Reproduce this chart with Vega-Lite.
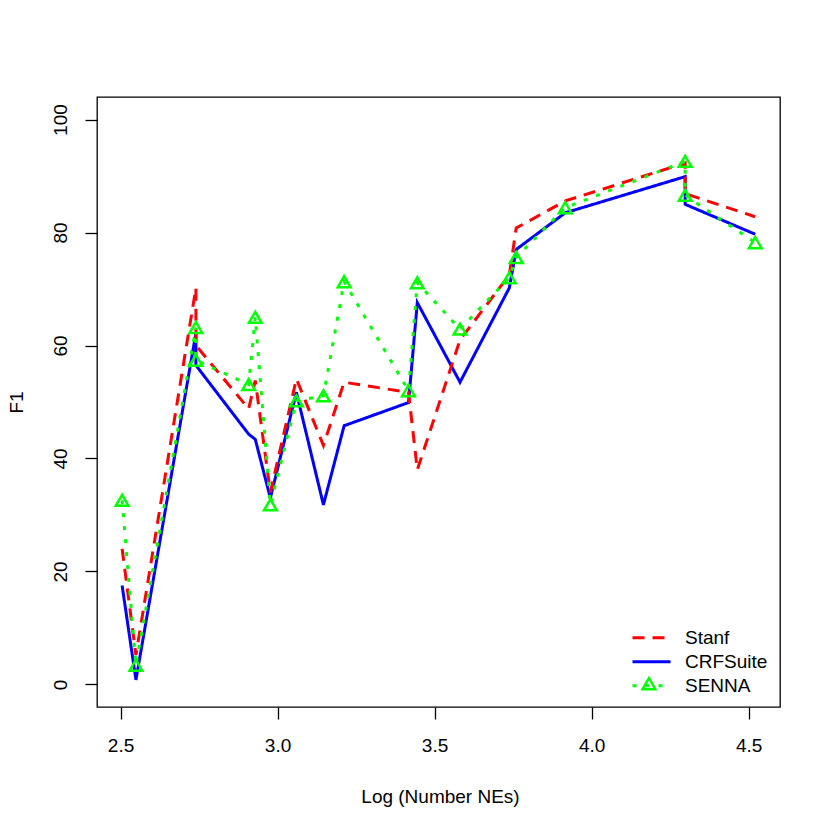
{
  "$schema": "https://vega.github.io/schema/vega-lite/v6.json",
  "autosize": {"type": "none"},
  "padding": {"left": 97, "top": 97, "right": 50, "bottom": 123},
  "width": 683,
  "height": 610,
  "background": "white",
  "config": {
    "font": "Liberation Sans",
    "view": {"stroke": "black", "strokeWidth": 1.3},
    "axis": {
      "grid": false,
      "domain": false,
      "tickColor": "black",
      "tickSize": 12,
      "tickWidth": 1.3,
      "labelColor": "black",
      "labelFontSize": 19,
      "labelFont": "Liberation Sans",
      "titleFont": "Liberation Sans",
      "titleFontSize": 19,
      "titleFontWeight": "normal",
      "titleColor": "black"
    }
  },
  "data": {
    "values": [
      {"o": 1, "x": 2.505, "Stanf": 24.0, "CRFSuite": 17.5, "SENNA": 32.6},
      {"o": 2, "x": 2.549, "Stanf": 5.2, "CRFSuite": 0.8, "SENNA": 3.4},
      {"o": 3, "x": 2.740, "Stanf": 70.2, "CRFSuite": 62.2, "SENNA": 63.2},
      {"o": 4, "x": 2.740, "Stanf": 60.0, "CRFSuite": 56.5, "SENNA": 57.4},
      {"o": 5, "x": 2.908, "Stanf": 48.8, "CRFSuite": 44.3, "SENNA": 53.1},
      {"o": 6, "x": 2.929, "Stanf": 53.8, "CRFSuite": 43.4, "SENNA": 65.0},
      {"o": 7, "x": 2.977, "Stanf": 34.0, "CRFSuite": 33.0, "SENNA": 31.8},
      {"o": 8, "x": 3.060, "Stanf": 54.1, "CRFSuite": 51.7, "SENNA": 50.2},
      {"o": 9, "x": 3.146, "Stanf": 42.3, "CRFSuite": 31.8, "SENNA": 51.1},
      {"o": 10, "x": 3.212, "Stanf": 53.5, "CRFSuite": 45.8, "SENNA": 71.3},
      {"o": 11, "x": 3.417, "Stanf": 51.7, "CRFSuite": 49.9, "SENNA": 52.0},
      {"o": 12, "x": 3.445, "Stanf": 38.0, "CRFSuite": 67.6, "SENNA": 71.1},
      {"o": 13, "x": 3.581, "Stanf": 61.0, "CRFSuite": 53.5, "SENNA": 62.9},
      {"o": 14, "x": 3.738, "Stanf": 72.5, "CRFSuite": 70.2, "SENNA": 72.0},
      {"o": 15, "x": 3.760, "Stanf": 80.8, "CRFSuite": 77.0, "SENNA": 75.6},
      {"o": 16, "x": 3.916, "Stanf": 85.6, "CRFSuite": 83.5, "SENNA": 84.4},
      {"o": 17, "x": 4.298, "Stanf": 92.3, "CRFSuite": 89.9, "SENNA": 92.6},
      {"o": 18, "x": 4.298, "Stanf": 86.9, "CRFSuite": 85.0, "SENNA": 86.6},
      {"o": 19, "x": 4.521, "Stanf": 82.8, "CRFSuite": 79.7, "SENNA": 78.2}
    ]
  },
  "transform": [{"fold": ["Stanf", "CRFSuite", "SENNA"], "as": ["series", "F1"]}],
  "encoding": {
    "x": {
      "field": "x", "type": "quantitative",
      "scale": {"domain": [2.425, 4.6], "nice": false, "zero": false},
      "axis": {"values": [2.5, 3, 3.5, 4, 4.5], "format": ".1f", "title": "Log (Number NEs)", "labelPadding": 17, "titleX": 343, "titleY": 95, "titleBaseline": "alphabetic", "titleAlign": "center"}
    },
    "y": {
      "field": "F1", "type": "quantitative",
      "scale": {"domain": [-4, 104], "nice": false, "zero": false},
      "axis": {"values": [0, 20, 40, 60, 80, 100], "title": "F1", "labelAngle": -90, "labelAlign": "center", "labelBaseline": "alphabetic", "labelPadding": 19, "titleX": -75, "titleY": 305, "titleAngle": -90, "titleAlign": "center", "titleBaseline": "alphabetic"}
    },
    "order": {"field": "o", "type": "quantitative"}
  },
  "layer": [
    {
      "transform": [{"filter": "datum.series === 'CRFSuite'"}],
      "mark": {"type": "line", "strokeWidth": 3},
      "encoding": {
        "color": {"field": "series", "type": "nominal", "scale": {"domain": ["Stanf", "CRFSuite", "SENNA"], "range": ["#FF0000", "#0000FF", "#00FF00"]},
          "legend": {"title": null, "orient": "none", "legendX": 534, "legendY": 529, "padding": 0, "rowPadding": 0, "symbolType": "stroke", "symbolSize": 1444, "symbolStrokeWidth": 3, "clipHeight": 23.3, "labelFontSize": 19, "labelFont": "Liberation Sans", "labelColor": "black", "labelOffset": 13}},
        "strokeDash": {"field": "series", "type": "nominal", "scale": {"domain": ["Stanf", "CRFSuite", "SENNA"], "range": [[12, 8], [1, 0], [4, 9]]},
          "legend": {"title": null, "orient": "none", "legendX": 534, "legendY": 529, "padding": 0, "rowPadding": 0, "symbolType": "stroke", "symbolSize": 1444, "symbolStrokeWidth": 3, "clipHeight": 23.3, "labelFontSize": 19, "labelFont": "Liberation Sans", "labelColor": "black", "labelOffset": 13}}
      }
    },
    {
      "transform": [{"filter": "datum.series === 'Stanf'"}],
      "mark": {"type": "line", "strokeWidth": 3},
      "encoding": {
        "color": {"field": "series", "type": "nominal"},
        "strokeDash": {"field": "series", "type": "nominal"}
      }
    },
    {
      "transform": [{"filter": "datum.series === 'SENNA'"}],
      "mark": {"type": "line", "strokeWidth": 3},
      "encoding": {
        "color": {"field": "series", "type": "nominal"},
        "strokeDash": {"field": "series", "type": "nominal"}
      }
    },
    {
      "transform": [{"filter": "datum.series === 'SENNA'"}],
      "mark": {"type": "point", "filled": false, "stroke": "#00FF00", "color": "#00FF00", "strokeWidth": 2.5, "size": 160, "opacity": 1},
      "encoding": {
        "shape": {"field": "series", "type": "nominal", "scale": {"domain": ["SENNA"], "range": ["triangle-up"]},
          "legend": {"title": null, "orient": "none", "legendX": 544, "legendY": 575, "padding": 0, "symbolSize": 160, "symbolStrokeColor": "#00FF00", "symbolFillColor": "transparent", "symbolStrokeWidth": 2.5, "clipHeight": 23.3, "labelExpr": "''", "labelFontSize": 1}}
      }
    }
  ]
}
